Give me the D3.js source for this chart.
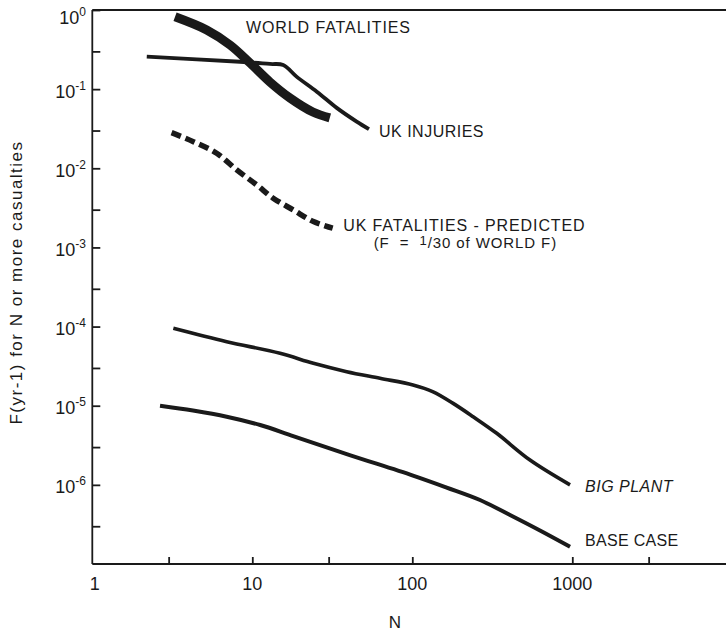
<!DOCTYPE html>
<html>
<head>
<meta charset="utf-8">
<script src="https://cdn.jsdelivr.net/npm/d3@7"></script>
<style>
  html, body { margin: 0; padding: 0; background: #fff; }
  svg { display: block; }
  text { font-family: "Liberation Sans", Arial, Helvetica, sans-serif; fill: #1a1a1a; }
</style>
</head>
<body>
<svg id="chart" width="726" height="632"></svg>
<script>
// ---------- data ----------
const worldN = [3.29, 5.19, 7.26, 9.68, 12.9, 17.2, 23.9, 30.5];
const worldF = [0.82, 0.559, 0.361, 0.214, 0.123, 0.0774, 0.0515, 0.0433];

const ukInjN = [2.19, 8.38, 12.9, 15.6, 18.9, 25.3, 33.7, 44.9, 53.6];
const ukInjF = [0.257, 0.222, 0.208, 0.202, 0.144, 0.093, 0.058, 0.0389, 0.0312];

const ukFatN = [3.13, 4.28, 5.99, 7.99, 10.65, 13.5, 18.0, 24.1, 31.8];
const ukFatF = [0.0282, 0.0217, 0.0155, 0.00955, 0.00617, 0.00419, 0.00298, 0.00212, 0.00175];

const bigN = [3.21, 6.92, 14.9, 24.1, 38.9, 62.8, 101, 135, 180, 240, 337, 544, 968];
const bigF = [9.5e-5, 6.44e-5, 4.59e-5, 3.43e-5, 2.69e-5, 2.22e-5, 1.83e-5, 1.5e-5, 1.07e-5, 7.26e-6, 4.48e-6, 2.06e-6, 1.0e-6];

const baseN = [2.65, 4.26, 6.92, 11.2, 18.0, 38.9, 101, 164, 265, 408, 628, 968];
const baseF = [1.0e-5, 8.69e-6, 7.26e-6, 5.7e-6, 4.14e-6, 2.45e-6, 1.31e-6, 9.25e-7, 6.44e-7, 4.16e-7, 2.65e-7, 1.65e-7];

const xTickValues = [3, 10, 30, 100, 1000, 3000];
const xTickLabels = [1, 10, 100, 1000];
const yMajorTicks = [1, 1e-1, 1e-2, 1e-3, 1e-4, 1e-5, 1e-6];
const yMinorTicks = [3e-1, 3e-2, 3e-3, 3e-4, 3e-5, 3e-6, 3e-7];
const yExponents = ["0", "-1", "-2", "-3", "-4", "-5", "-6"];

const xTitle = "N";
const yTitle = "F(yr-1) for N or more casualties";

// ---------- layout ----------
const svg = d3.select("#chart");
const W = 726, H = 632;
const plotLeft = 92.3, plotTop = 10, plotBottom = 564;

const x = d3.scaleLog().domain([1, 10000]).range([plotLeft, plotLeft + 640]);
const y = d3.scaleLog().domain([1e-7, 1]).range([plotBottom, plotTop]);

const ink = "#1a1a1a";

// top border line
svg.append("line")
  .attr("x1", plotLeft).attr("x2", W).attr("y1", y(1)).attr("y2", y(1))
  .attr("stroke", ink).attr("stroke-width", 1.8);

// x axis (ticks point inward)
const xAxis = svg.append("g")
  .attr("transform", `translate(0,${plotBottom})`)
  .call(d3.axisBottom(x).tickValues(xTickValues).tickSize(-7).tickSizeOuter(0).tickFormat(""));
xAxis.select(".domain").attr("stroke", ink).attr("stroke-width", 1.8)
  .attr("d", `M${plotLeft},0H${W}`);
xAxis.selectAll(".tick line").attr("stroke", ink).attr("stroke-width", 1.8);

svg.append("g").selectAll("text")
  .data(xTickLabels).join("text")
  .attr("x", d => x(d) + (d === 1 ? 2.5 : 0))
  .attr("y", 590)
  .attr("text-anchor", "middle")
  .style("font-size", "18px")
  .text(d => d);

// y axis (ticks point inward)
const yAxis = svg.append("g")
  .attr("transform", `translate(${plotLeft},0)`)
  .call(d3.axisLeft(y).tickValues(yMajorTicks.concat(yMinorTicks)).tickSize(-8).tickSizeOuter(0).tickFormat(""));
yAxis.select(".domain").attr("stroke", ink).attr("stroke-width", 1.8)
  .attr("d", `M0,${plotTop}V${plotBottom}`);
yAxis.selectAll(".tick line").attr("stroke", ink).attr("stroke-width", 1.8);

const yLab = svg.append("g").selectAll("text")
  .data(yMajorTicks).join("text")
  .attr("x", 86)
  .attr("y", d => Math.max(y(d) + 8.5, 24))
  .attr("text-anchor", "end");
yLab.append("tspan").style("font-size", "18px").text("10");
yLab.append("tspan").style("font-size", "12px").attr("dy", -8)
  .text((d, i) => yExponents[i]);

// axis titles
svg.append("text")
  .attr("x", 395).attr("y", 628)
  .attr("text-anchor", "middle")
  .style("font-size", "17px")
  .text(xTitle);

svg.append("text")
  .attr("transform", `translate(22,${(425 + 140) / 2}) rotate(-90)`)
  .attr("text-anchor", "middle")
  .style("font-size", "17px")
  .style("letter-spacing", "1.5px")
  .text(yTitle);

// ---------- series ----------
const line = d3.line().x(d => x(d[0])).y(d => y(d[1])).curve(d3.curveCatmullRom.alpha(0.5));
const zip = (a, b) => a.map((v, i) => [v, b[i]]);

const series = [
  { pts: zip(worldN, worldF), w: 9, dash: null },
  { pts: zip(ukInjN, ukInjF), w: 3.8, dash: null },
  { pts: zip(ukFatN, ukFatF), w: 5.5, dash: "10,5" },
  { pts: zip(bigN, bigF), w: 3.6, dash: null },
  { pts: zip(baseN, baseF), w: 4, dash: null }
];

svg.append("g").selectAll("path")
  .data(series).join("path")
  .attr("d", d => line(d.pts))
  .attr("fill", "none")
  .attr("stroke", ink)
  .attr("stroke-width", d => d.w)
  .attr("stroke-dasharray", d => d.dash)
  .attr("stroke-linecap", "butt")
  .attr("stroke-linejoin", "round");

// ---------- annotations ----------
const lastOf = (n, f) => [x(n[n.length - 1]), y(f[f.length - 1])];

svg.append("text")
  .attr("x", 246).attr("y", 33)
  .style("font-size", "16px").style("letter-spacing", "0.9px")
  .text("WORLD FATALITIES");

const [ix, iy] = lastOf(ukInjN, ukInjF);
svg.append("text")
  .attr("x", ix + 10).attr("y", iy + 7.5)
  .style("font-size", "16px").style("letter-spacing", "0.5px")
  .text("UK INJURIES");

const [fx, fy] = lastOf(ukFatN, ukFatF);
svg.append("text")
  .attr("x", fx + 10.5).attr("y", fy + 3)
  .style("font-size", "16px").style("letter-spacing", "0.9px")
  .text("UK FATALITIES - PREDICTED");
const sub = svg.append("text")
  .attr("x", fx + 41).attr("y", fy + 19.5)
  .style("font-size", "15px")
  .style("letter-spacing", "0.9px")
  .attr("xml:space", "preserve");
sub.append("tspan").text("(F  =  ");
sub.append("tspan").attr("dy", -3).style("font-size", "13px").text("1");
sub.append("tspan").attr("dy", 3).text("/30 of WORLD F)");

const [bx, by] = lastOf(bigN, bigF);
svg.append("text")
  .attr("x", bx + 15).attr("y", by + 7)
  .style("font-size", "16px").style("font-style", "italic").style("letter-spacing", "0.5px")
  .text("BIG PLANT");

const [cx, cy] = lastOf(baseN, baseF);
svg.append("text")
  .attr("x", cx + 15).attr("y", cy - 0.5)
  .style("font-size", "16px").style("letter-spacing", "0.3px")
  .text("BASE CASE");
</script>
</body>
</html>
